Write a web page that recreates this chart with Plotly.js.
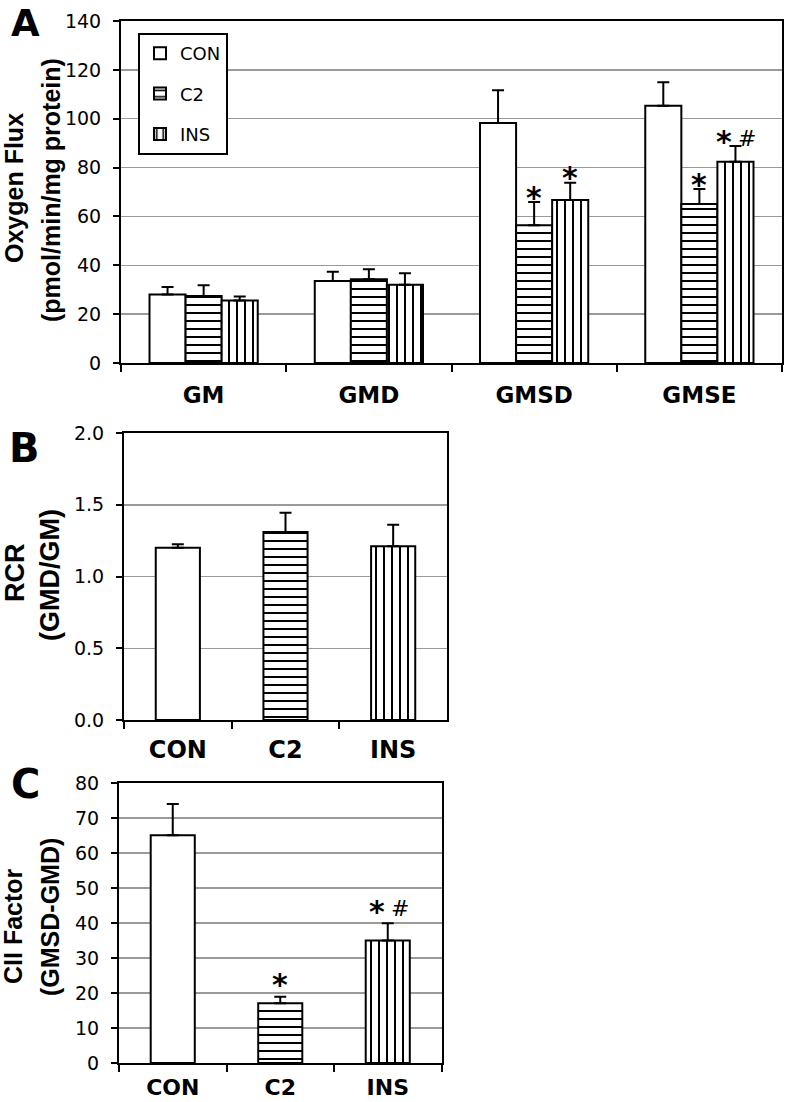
<!DOCTYPE html>
<html>
<head>
<meta charset="utf-8">
<script src="https://cdn.plot.ly/plotly-3.0.1.min.js"></script>
<style>
  body { margin: 0; background: #fff; }
  #chart { width: 787px; height: 1102px; }
</style>
</head>
<body>
<div id="chart"></div>
<script>
// panel A - oxygen flux per substrate protocol
const protocols = ['GM', 'GMD', 'GMSD', 'GMSE'];
const groups = ['CON', 'C2', 'INS'];
const fluxCON = [28.0, 33.6, 98.2, 105.3];
const fluxCONerr = [3.1, 3.8, 13.5, 9.6];
const fluxC2 = [27.4, 34.3, 56.4, 65.1];
const fluxC2err = [4.4, 4.1, 9.5, 6.1];
const fluxINS = [25.6, 32.0, 66.7, 82.4];
const fluxINSerr = [1.6, 4.7, 7.1, 6.4];

// panel B - RCR (GMD/GM)
const rcr = [1.20, 1.31, 1.21];
const rcrErr = [0.025, 0.135, 0.15];

// panel C - CII factor (GMSD-GMD)
const ciiFactor = [65.1, 17.1, 35.0];
const ciiErr = [8.9, 1.8, 4.9];

// significance marks: [protocol index, group index, symbol]
const marksA = [[2, 1, '*'], [2, 2, '*'], [3, 1, '*'], [3, 2, '*'], [3, 2, '#']];
// [group index, symbol]
const marksC = [[1, '*'], [2, '*'], [2, '#']];

const W = 787, H = 1102;
function px(x) { return x / W; }
function py(y) { return 1 - y / H; }

const shapes = ['', '-', '|'];
function pattern(s) {
    return {shape: s, fgcolor: 'black', bgcolor: 'white', size: 8, solidity: 0.25};
}
function errBar(arr) {
    return {
        type: 'data', symmetric: false, array: arr,
        arrayminus: arr.map(function () { return 0; }),
        color: 'black', thickness: 2, width: 6
    };
}

const bargapA = 0.345;
const barWidthBC = 0.41;

const fluxVals = [fluxCON, fluxC2, fluxINS];
const fluxErrs = [fluxCONerr, fluxC2err, fluxINSerr];

var data = groups.map(function (g, i) {
    return {
        type: 'bar',
        name: g,
        legendgroup: g,
        x: protocols,
        y: fluxVals[i],
        xaxis: 'x', yaxis: 'y',
        marker: {color: 'white', line: {color: 'black', width: 2}, pattern: pattern(shapes[i])},
        error_y: errBar(fluxErrs[i])
    };
});

data.push({
    type: 'bar', x: groups, y: rcr, xaxis: 'x2', yaxis: 'y2',
    width: barWidthBC, showlegend: false,
    marker: {color: 'white', line: {color: 'black', width: 2}, pattern: pattern(shapes)},
    error_y: errBar(rcrErr)
});

data.push({
    type: 'bar', x: groups, y: ciiFactor, xaxis: 'x3', yaxis: 'y3',
    width: barWidthBC, showlegend: false,
    marker: {color: 'white', line: {color: 'black', width: 2}, pattern: pattern(shapes)},
    error_y: errBar(ciiErr)
});

const tickFont = {family: 'DejaVu Sans', size: 19, color: 'black'};
function catFont(size) {
    return {family: 'DejaVu Sans', size: size, color: 'black', weight: 'bold'};
}

function xAxis(domain, anchor, font, standoff) {
    return {
        domain: domain, anchor: anchor, type: 'category',
        showline: true, linecolor: 'black', linewidth: 2, mirror: true,
        ticks: 'outside', tickson: 'boundaries', ticklen: 7, tickwidth: 2, tickcolor: 'black',
        showgrid: false, tickfont: font, ticklabelstandoff: standoff, fixedrange: true
    };
}
function yAxis(domain, anchor, range, dtick, fmt) {
    return {
        domain: domain, anchor: anchor, range: range, dtick: dtick, tickformat: fmt,
        showline: true, linecolor: 'black', linewidth: 2, mirror: true,
        ticks: 'outside', ticklen: 6, tickwidth: 2, tickcolor: 'black',
        showgrid: true, gridcolor: '#9a9a9a', gridwidth: 1.5, zeroline: false,
        tickfont: tickFont, ticklabelstandoff: 8, fixedrange: true
    };
}

var annotations = [];

// panel letters
annotations.push({
    xref: 'paper', yref: 'paper', x: px(25), y: 1,
    xanchor: 'center', yanchor: 'top', showarrow: false, text: 'A',
    font: {family: 'DejaVu Sans', size: 37, color: 'black', weight: 'bold'}
});
[['B', 24, 448], ['C', 25, 784]].forEach(function (p) {
    annotations.push({
        xref: 'paper', yref: 'paper', x: px(p[1]), y: py(p[2]),
        xanchor: 'center', yanchor: 'middle', showarrow: false, text: p[0],
        font: {family: 'DejaVu Sans', size: 40, color: 'black', weight: 'bold'}
    });
});

// y-axis titles, two lines each
const yTitles = [
    ['Oxygen Flux', 14, 188, 25],
    ['(pmol/min/mg protein)', 51, 190, 25],
    ['RCR', 15, 573, 27],
    ['(GMD/GM)', 50, 575, 27],
    ['CII Factor', 13, 926, 25],
    ['(GMSD-GMD)', 50, 917, 25]
];
yTitles.forEach(function (t) {
    annotations.push({
        xref: 'paper', yref: 'paper', x: px(t[1]), y: py(t[2]),
        xanchor: 'center', yanchor: 'middle', textangle: -90, showarrow: false, text: t[0],
        font: {family: 'Liberation Sans', size: t[3], color: 'black', weight: 'bold'}
    });
});

function markAnnotation(xref, yref, x, y, sym, both, yshift) {
    var star = sym === '*';
    return {
        xref: xref, yref: yref, x: x, y: y, showarrow: false, text: sym,
        xanchor: 'center', yanchor: 'middle',
        xshift: both ? (star ? -11 : 12) : 0,
        yshift: star ? yshift : yshift + 3,
        font: star ? {family: 'DejaVu Sans', size: 30, color: 'black', weight: 'bold'}
                   : {family: 'DejaVu Sans', size: 22, color: 'black'}
    };
}

const barW = (1 - bargapA) / 3;
marksA.forEach(function (m) {
    var both = marksA.filter(function (o) { return o[0] === m[0] && o[1] === m[1]; }).length > 1;
    var x = m[0] + (m[1] - 1) * barW;
    var y = fluxVals[m[1]][m[0]] + fluxErrs[m[1]][m[0]];
    annotations.push(markAnnotation('x', 'y', x, y, m[2], both, 5));
});
marksC.forEach(function (m) {
    var both = marksC.filter(function (o) { return o[0] === m[0]; }).length > 1;
    annotations.push(markAnnotation('x3', 'y3', m[0], ciiFactor[m[0]] + ciiErr[m[0]], m[1], both, 12));
});

var layout = {
    width: W, height: H,
    margin: {l: 0, r: 0, t: 0, b: 0},
    paper_bgcolor: 'white', plot_bgcolor: 'white',
    barmode: 'group', bargap: bargapA, bargroupgap: 0,
    showlegend: true,
    legend: {
        x: px(138), y: py(33), xanchor: 'left', yanchor: 'top',
        bordercolor: 'black', borderwidth: 2, bgcolor: 'white',
        font: {family: 'DejaVu Sans', size: 18, color: 'black'},
        tracegroupgap: 14
    },
    xaxis: xAxis([px(121), px(782)], 'y', catFont(23), 10),
    yaxis: yAxis([py(363), py(21)], 'x', [0, 140], 20, ''),
    xaxis2: xAxis([px(124), px(447)], 'y2', catFont(24), 7),
    yaxis2: yAxis([py(720), py(433)], 'x2', [0, 2], 0.5, '.1f'),
    xaxis3: xAxis([px(119), px(441.5)], 'y3', catFont(22), 4),
    yaxis3: yAxis([py(1063), py(783)], 'x3', [0, 80], 10, ''),
    annotations: annotations
};

Plotly.newPlot('chart', data, layout, {displayModeBar: false, staticPlot: true});
</script>
</body>
</html>
